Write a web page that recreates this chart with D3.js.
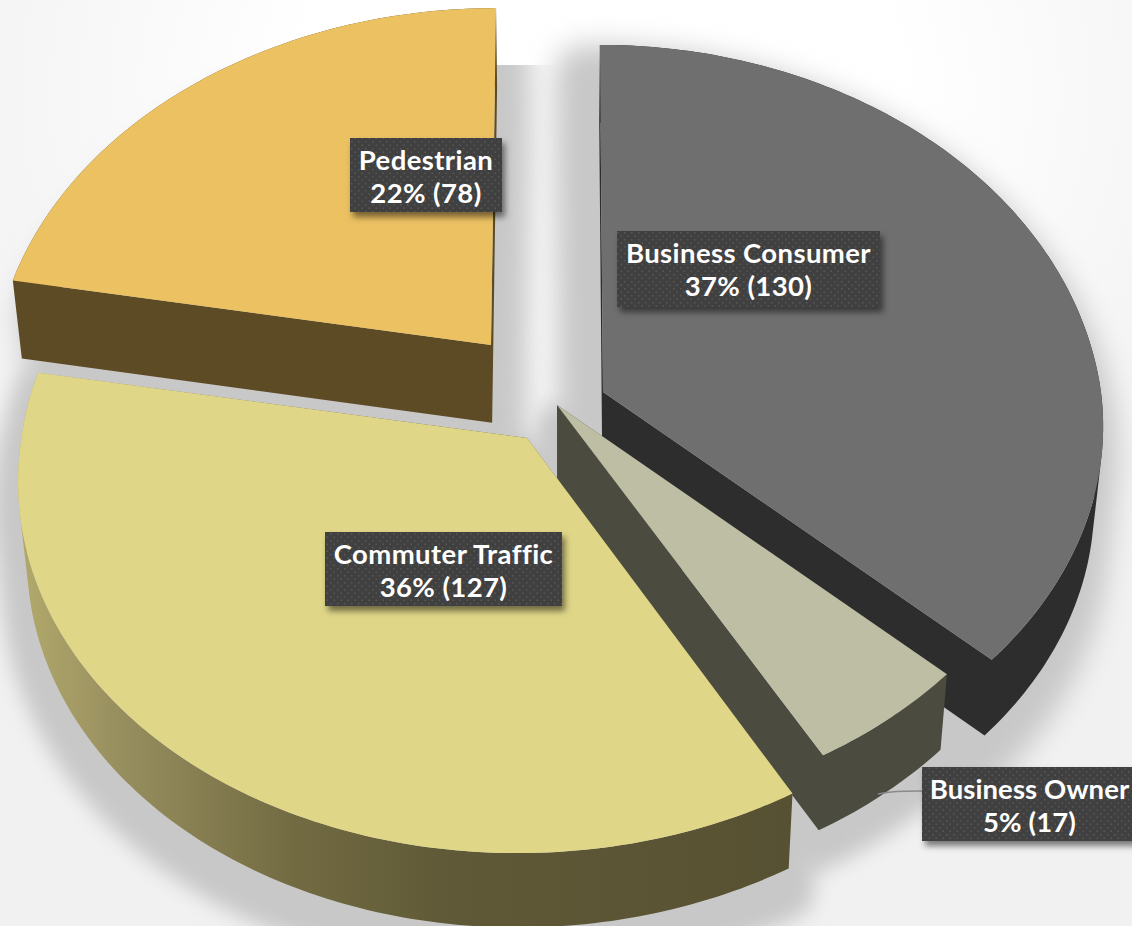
<!DOCTYPE html>
<html><head><meta charset="utf-8">
<style>html,body{margin:0;padding:0;background:#fff;overflow:hidden}svg{display:block}</style>
<script src="https://cdn.jsdelivr.net/npm/d3@7"></script></head>
<body><svg id="c" width="1132" height="926"></svg>
<script>
const categories = ["Business Consumer","Business Owner","Commuter Traffic","Pedestrian"];
const values = [130,17,127,78];
const topColors = ["#6f6f6f","#bebea5","#e0d688","#ebc162"];
const wallColors = ["#2d2d2d","#4b4b40","url(#commuterWall)","#5c4b25"];

// layout (not data): apex, x scale, y scale far/near, shear far/near for each slice
const apex = [[603,392],[557,405],[527,438],[491,345]];
const sliceFit = [
  {sx:0.99,syFar:1.02,syNear:0.98,shFar:0.009,shNear:-0.008},
  {sx:1,syFar:1,syNear:0.985,shFar:0,shNear:-0.018},
  {sx:1.005,syFar:1,syNear:1,shFar:0,shNear:-0.023},
  {sx:0.985,syFar:0.99,syNear:1,shFar:-0.015,shNear:0}
];
const shadowFit = [
  {dx:-15,dy:30,w:60,blur:"blurWide",clip:false},
  {dx:0,dy:20,w:40,blur:"blur",clip:false},
  {dx:0,dy:25,w:50,blur:"blur",clip:false},
  {dx:20,dy:30,w:30,blur:"blurWide",clip:true}
];
const labelBoxes = [[617,231,263,76],[922,767,215,74],[325,532,237,74],[350,138,152,74]];
const drawOrder = [3,0,1,2];
const A=503,B=374,K=0.099, VX=560, VK=0.0165;

const svg=d3.select("#c");
const total=d3.sum(values);
const arcs=d3.pie().sort(null).startAngle(0).endAngle(2*Math.PI)(values);
const line=d3.line();

function project(i,theta){
  const u=Math.sin(theta), v=-Math.cos(theta), w=1-K*v, f=sliceFit[i];
  const dy=B*v/w*(v<0?f.syFar:f.syNear);
  return [apex[i][0]+f.sx*A*u/w+(v<0?f.shFar:f.shNear)*dy, apex[i][1]+dy];
}
function drop(p){ return [p[0]-VK*(p[0]-VX), p[1]+78-0.0065*Math.max(p[1]-300,0)]; }
function outline(i){
  const a=arcs[i], n=Math.ceil((a.endAngle-a.startAngle)*60);
  const pts=[apex[i].slice()];
  d3.range(n+1).forEach(k=>pts.push(project(i,a.startAngle+(a.endAngle-a.startAngle)*k/n)));
  return pts;
}
function wallPath(pts){
  const bot=pts.map(drop); let d="";
  pts.forEach((p,k)=>{
    const j=(k+1)%pts.length;
    let q=[p,pts[j],bot[j],bot[k]];
    if(d3.polygonArea(q)<0) q=q.reverse();
    d+=line(q)+"Z";
  });
  return d;
}

const defs=svg.append("defs");
[["blur",10],["blurWide",14]].forEach(b=>{
  defs.append("filter").attr("id",b[0]).attr("filterUnits","userSpaceOnUse")
    .attr("x",-100).attr("y",-100).attr("width",1400).attr("height",1200)
    .append("feGaussianBlur").attr("stdDeviation",b[1]);
});
const ds=defs.append("filter").attr("id","boxShadow").attr("x","-20%").attr("y","-20%").attr("width","140%").attr("height","150%");
ds.append("feDropShadow").attr("dx",3).attr("dy",5).attr("stdDeviation",3).attr("flood-color","#000").attr("flood-opacity",0.5);
const g=defs.append("linearGradient").attr("id","commuterWall").attr("gradientUnits","userSpaceOnUse")
  .attr("x1",20).attr("x2",800).attr("y1",0).attr("y2",0);
[[0,"#b2a96c"],[0.12,"#999060"],[0.35,"#726b42"],[0.55,"#5f5937"],[1,"#575133"]].forEach(s=>g.append("stop").attr("offset",s[0]).attr("stop-color",s[1]));
const pat=defs.append("pattern").attr("id","dots").attr("patternUnits","userSpaceOnUse").attr("width",7).attr("height",7);
pat.append("rect").attr("width",7).attr("height",7).attr("fill","#3f3f3f");
pat.append("rect").attr("x",1).attr("y",1).attr("width",1.5).attr("height",1.5).attr("fill","#585858");
pat.append("rect").attr("x",4.5).attr("y",4.5).attr("width",1.5).attr("height",1.5).attr("fill","#585858");
defs.append("clipPath").attr("id","shadowClip").append("rect").attr("x",0).attr("y",65).attr("width",1132).attr("height",900);
const bg=defs.append("radialGradient").attr("id","bg").attr("cx",0.53).attr("cy",0.1).attr("r",0.75);
[[0,"#fff"],[0.35,"#fff"],[0.7,"#f5f5f5"],[1,"#f1f1f1"]].forEach(s=>bg.append("stop").attr("offset",s[0]).attr("stop-color",s[1]));

svg.append("rect").attr("width",1132).attr("height",926).attr("fill","url(#bg)");

// shadows
drawOrder.forEach(i=>{
  const pts=outline(i), s=shadowFit[i];
  svg.append("g").attr("clip-path",s.clip?"url(#shadowClip)":null)
    .append("g").attr("filter",`url(#${s.blur})`).append("path")
    .attr("d",wallPath(pts)+line(pts)+"Z").attr("fill","#c8c8c8")
    .attr("stroke","#c8c8c8").attr("stroke-width",s.w).attr("stroke-linejoin","round")
    .attr("transform",`translate(${s.dx},${s.dy})`);
});

// slices
drawOrder.forEach(i=>{
  const pts=outline(i);
  svg.append("path").attr("d",wallPath(pts)).attr("fill",wallColors[i]);
  svg.append("path").attr("d",line(pts)+"Z").attr("fill",topColors[i]);
});

// leader line
svg.append("path").attr("d",d3.line().curve(d3.curveBasis)([[878,794],[895,791],[922,791]]))
  .attr("fill","none").attr("stroke","#8a8a8a").attr("stroke-width",1.6);

// labels
categories.forEach((c,i)=>{
  const b=labelBoxes[i], cx=b[0]+b[2]/2;
  svg.append("rect").attr("x",b[0]).attr("y",b[1]).attr("width",b[2]).attr("height",b[3])
    .attr("fill","url(#dots)").attr("filter","url(#boxShadow)");
  const t=svg.append("text").attr("text-anchor","middle").attr("fill","#fff")
    .attr("font-family","Lato").attr("font-weight",700).attr("font-size",27.5).attr("letter-spacing",i==1?0.1:0.4);
  t.append("tspan").attr("x",cx).attr("y",b[1]+32).text(c);
  t.append("tspan").attr("x",cx).attr("y",b[1]+65).text(`${Math.round(values[i]/total*100)}% (${values[i]})`);
});
</script></body></html>
